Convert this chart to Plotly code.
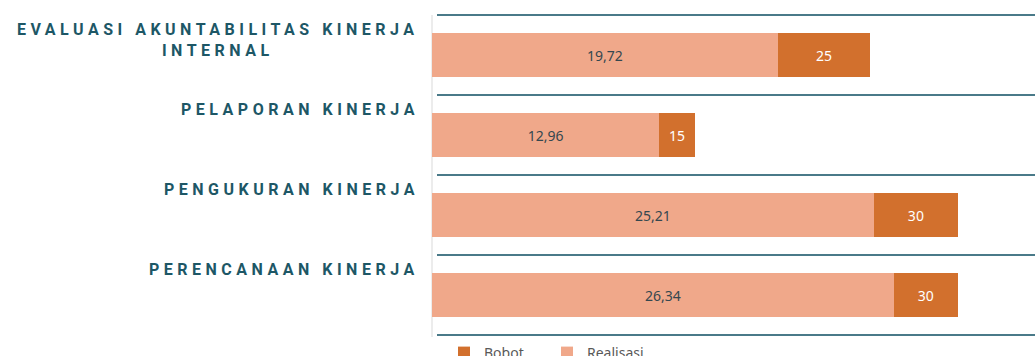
import plotly.graph_objects as go

# Komponen evaluasi SAKIP: bobot maksimum dan nilai realisasi
categories = [
    "EVALUASI AKUNTABILITAS KINERJA<br>INTERNAL",
    "PELAPORAN KINERJA",
    "PENGUKURAN KINERJA",
    "PERENCANAAN KINERJA",
]
bobot = [25, 15, 30, 30]
realisasi = [19.72, 12.96, 25.21, 26.34]

SALMON = "#F0A88A"
ORANGE = "#D2702D"
TEAL = "#1D5766"
RULE = "#4A7A89"

W, H = 1035, 356
ml, mt, mb = 432, 10, 0
plot_w = W - ml
plot_h = H - mt - mb
band = 80  # tinggi tiap kategori dalam piksel
x_max = 34.4

n = len(categories)
ids = list(range(n))
sisa = [b - r for b, r in zip(bobot, realisasi)]

y_lo = n - 0.5 + 21 / band      # batas bawah sumbu y (terbalik)
y_hi = -0.5 - mt / 2 / band     # batas atas sumbu y


def to_paper(yv):
    """Ubah posisi kategori ke koordinat paper agar garis tidak terpotong."""
    return (y_lo - yv) / (y_lo - y_hi)


fig = go.Figure()
fig.add_trace(go.Bar(
    name="Bobot", y=ids, x=sisa, base=realisasi, orientation="h",
    marker=dict(color=ORANGE, line=dict(width=0)),
    text=[str(v) for v in bobot],
    textposition="inside", insidetextanchor="middle",
    textfont=dict(family="Noto Sans", size=14, color="white"),
))
fig.add_trace(go.Bar(
    name="Realisasi", y=ids, x=realisasi, orientation="h",
    marker=dict(color=SALMON, line=dict(width=0)),
    text=[f"{v:.2f}".replace(".", ",") for v in realisasi],
    textposition="inside", insidetextanchor="middle",
    textfont=dict(family="Noto Sans", size=14, color="#34474F"),
))

# garis pemisah antar kategori
for k in range(n + 1):
    yp = to_paper(k - 0.5)
    fig.add_shape(type="line", xref="paper", yref="paper",
                  x0=5 / plot_w, x1=1, y0=yp, y1=yp,
                  line=dict(color=RULE, width=2), layer="above")

# garis sumbu vertikal
fig.add_shape(type="line", xref="paper", yref="paper",
              x0=0, x1=0, y0=to_paper(-0.5), y1=to_paper(n - 0.5 + 2 / band),
              line=dict(color="#D9D9D9", width=1), layer="below")

# label kategori di atas tiap batang
for i, name in enumerate(categories):
    fig.add_annotation(
        xref="paper", yref="y", x=-11 / plot_w, y=i - 0.5 + 0.04,
        xanchor="right", yanchor="top", align="center",
        text=f'<span style="letter-spacing:4.5px">{name}</span>',
        showarrow=False,
        font=dict(family="Roboto", size=16, color=TEAL, weight="bold"),
    )

fig.update_layout(
    width=W, height=H,
    margin=dict(l=ml, r=0, t=mt, b=mb, autoexpand=False),
    paper_bgcolor="white", plot_bgcolor="white",
    barmode="stack", bargap=0.45,
    showlegend=True,
    legend=dict(orientation="h", traceorder="normal",
                xref="container", yref="container",
                x=(ml + 12) / W, xanchor="left",
                y=(H - 337) / H, yanchor="top",
                font=dict(family="Noto Sans", size=14, color="#595959"),
                itemwidth=30, entrywidth=58, entrywidthmode="pixels",
                bgcolor="white", borderwidth=0),
    xaxis=dict(range=[0, x_max], showgrid=False, zeroline=False,
               showticklabels=False, showline=False, fixedrange=True),
    yaxis=dict(range=[y_lo, y_hi], showgrid=False, zeroline=False,
               showticklabels=False, showline=False, fixedrange=True),
    hovermode=False,
)

fig.write_html("out.html")
